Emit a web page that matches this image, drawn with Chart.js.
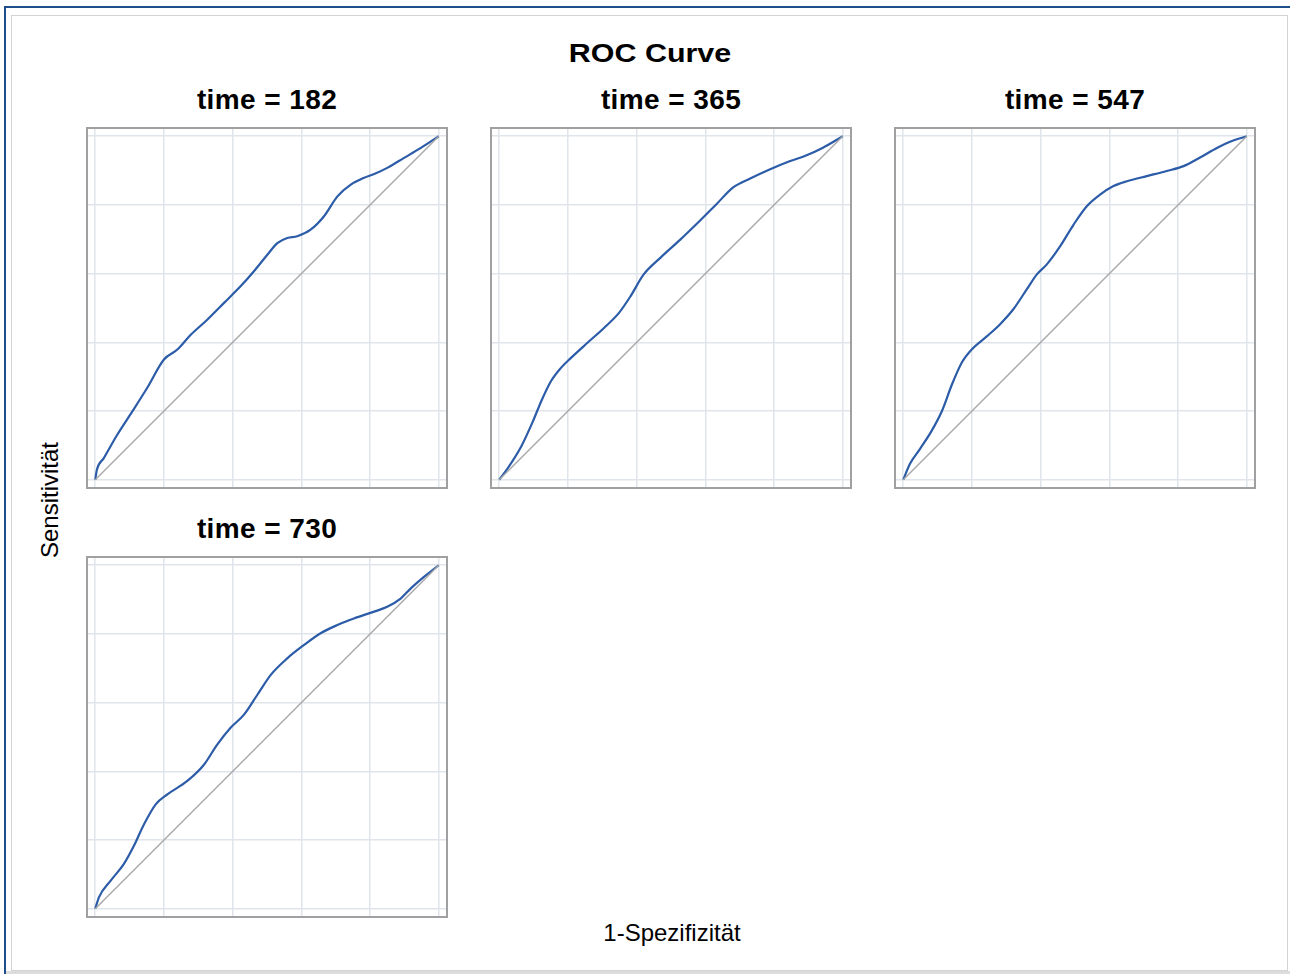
<!DOCTYPE html>
<html>
<head>
<meta charset="utf-8">
<script src="https://cdn.jsdelivr.net/npm/chart.js@4/dist/chart.umd.min.js"></script>
<style>
  html, body { margin: 0; padding: 0; background: #fff; }
  body { width: 1290px; height: 974px; position: relative; overflow: hidden;
         font-family: "Liberation Sans", Arial, sans-serif; color: #000; }
  .lbl { position: absolute; transform: translate(-50%, -50%); white-space: nowrap; line-height: normal; }
  .panel { position: absolute; }
  #blueTop { position: absolute; left: 4px; top: 6px; width: 1286px; height: 2px; background: #1f4f8a; }
  #blueLeft { position: absolute; left: 4px; top: 6px; width: 2px; height: 968px; background: #1f4f8a; }
  #innerFrame { position: absolute; left: 11px; top: 15px; width: 1275px; height: 954px; border: 1px solid #d3d3d6; }
  #bottomBar { position: absolute; left: 6px; top: 971px; width: 1284px; height: 3px; background: #dcdcdc; }
</style>
</head>
<body>
<div id="blueTop"></div>
<div id="blueLeft"></div>
<div id="innerFrame"></div>
<div id="bottomBar"></div>

<div class="lbl" style="left:650px; top:53px; font-size:26px; font-weight:bold; transform: translate(-50%, -50%) scaleX(1.17);">ROC Curve</div>
<div class="lbl" style="left:672px; top:933px; font-size:24px;">1-Spezifizität</div>
<div class="lbl" style="left:50px; top:500px; font-size:24px; transform: translate(-50%, -50%) rotate(-90deg);">Sensitivität</div>

<script>
// grid positions on both axes
const tickVals = [0, 0.2, 0.4, 0.6, 0.8, 1]
const diagX = [0, 1]
const diagY = [0, 1]

// time = 182
const fpr182 = [0, 0.005, 0.025, 0.064, 0.108, 0.151, 0.2, 0.239, 0.278, 0.326, 0.375, 0.423, 0.462, 0.501, 0.53, 0.559, 0.588, 0.627, 0.666, 0.705, 0.744, 0.783, 0.812, 0.85, 0.899, 0.948, 1]
const tpr182 = [0, 0.03, 0.063, 0.131, 0.199, 0.267, 0.35, 0.379, 0.422, 0.466, 0.515, 0.563, 0.607, 0.655, 0.689, 0.704, 0.709, 0.728, 0.767, 0.825, 0.859, 0.879, 0.89, 0.908, 0.937, 0.966, 1]

// time = 365
const fpr365 = [0, 0.025, 0.064, 0.098, 0.122, 0.15, 0.179, 0.208, 0.256, 0.305, 0.348, 0.382, 0.42, 0.469, 0.527, 0.584, 0.633, 0.681, 0.729, 0.787, 0.845, 0.893, 0.941, 1]
const tpr365 = [0, 0.034, 0.097, 0.17, 0.228, 0.286, 0.325, 0.354, 0.398, 0.442, 0.485, 0.534, 0.597, 0.646, 0.699, 0.754, 0.803, 0.851, 0.876, 0.903, 0.927, 0.944, 0.966, 1]

// time = 547
const fpr547 = [0, 0.02, 0.049, 0.083, 0.113, 0.142, 0.171, 0.2, 0.244, 0.282, 0.321, 0.36, 0.389, 0.418, 0.457, 0.496, 0.535, 0.573, 0.612, 0.651, 0.709, 0.767, 0.816, 0.864, 0.913, 0.951, 1]
const tpr547 = [0, 0.047, 0.09, 0.143, 0.201, 0.278, 0.342, 0.38, 0.418, 0.453, 0.497, 0.555, 0.598, 0.627, 0.68, 0.743, 0.797, 0.83, 0.855, 0.869, 0.884, 0.899, 0.913, 0.938, 0.966, 0.984, 1]

// time = 730
const fpr730 = [0, 0.011, 0.045, 0.083, 0.113, 0.142, 0.176, 0.21, 0.268, 0.317, 0.355, 0.394, 0.433, 0.472, 0.511, 0.559, 0.608, 0.656, 0.705, 0.753, 0.812, 0.85, 0.889, 0.918, 0.957, 1]
const tpr730 = [0, 0.034, 0.082, 0.13, 0.184, 0.246, 0.304, 0.333, 0.372, 0.42, 0.478, 0.527, 0.565, 0.623, 0.681, 0.729, 0.768, 0.802, 0.826, 0.845, 0.865, 0.879, 0.903, 0.932, 0.966, 1]

const panelTitles = ['time = 182', 'time = 365', 'time = 547', 'time = 730']

let zip = (xs, ys) => xs.map((x, i) => ({x: x, y: ys[i]}))

// frame placement (left, top of the plot box), each box is 360 px
const panels = [
  {title: panelTitles[0], fpr: fpr182, tpr: tpr182, left: 87, top: 128},
  {title: panelTitles[1], fpr: fpr365, tpr: tpr365, left: 491, top: 128},
  {title: panelTitles[2], fpr: fpr547, tpr: tpr547, left: 895, top: 128},
  {title: panelTitles[3], fpr: fpr730, tpr: tpr730, left: 87, top: 557}
]
const BOX = 360
const PAD = 2

// grey box round the plot area
const framePlugin = {
  id: 'frame',
  afterDraw(chart) {
    const a = chart.chartArea
    const ctx = chart.ctx
    ctx.save()
    ctx.strokeStyle = '#a0a0a0'
    ctx.lineWidth = 2
    ctx.strokeRect(a.left, a.top, a.right - a.left, a.bottom - a.top)
    ctx.restore()
  }
}

function axis() {
  return {
    type: 'linear',
    min: -0.024,
    max: 1.024,
    ticks: {display: false},
    grid: {color: '#e0e5ec', lineWidth: 1.5, drawTicks: false},
    border: {display: false},
    afterBuildTicks: (s) => { s.ticks = tickVals.map(v => ({value: v})) }
  }
}

panels.forEach((p) => {
  const t = document.createElement('div')
  t.className = 'lbl'
  t.style.left = (p.left + BOX / 2) + 'px'
  t.style.top = (p.top - 28) + 'px'
  t.style.fontSize = '28px'
  t.style.fontWeight = 'bold'
  t.style.letterSpacing = '0.4px'
  t.textContent = p.title
  document.body.appendChild(t)

  const c = document.createElement('canvas')
  c.className = 'panel'
  c.width = BOX + 2 * PAD
  c.height = BOX + 2 * PAD
  c.style.left = (p.left - PAD) + 'px'
  c.style.top = (p.top - PAD) + 'px'
  document.body.appendChild(c)

  new Chart(c, {
    type: 'line',
    data: {
      datasets: [{
        data: zip(diagX, diagY),
        borderColor: '#a8a8a8',
        borderWidth: 1.4,
        pointRadius: 0,
        tension: 0
      }, {
        data: zip(p.fpr, p.tpr),
        borderColor: '#2c5ca8',
        borderWidth: 2.2,
        pointRadius: 0,
        cubicInterpolationMode: 'monotone'
      }]
    },
    options: {
      responsive: false,
      animation: false,
      events: [],
      layout: {padding: PAD},
      plugins: {legend: {display: false}, tooltip: {enabled: false}},
      scales: {x: axis(), y: axis()}
    },
    plugins: [framePlugin]
  })
})
</script>
</body>
</html>
